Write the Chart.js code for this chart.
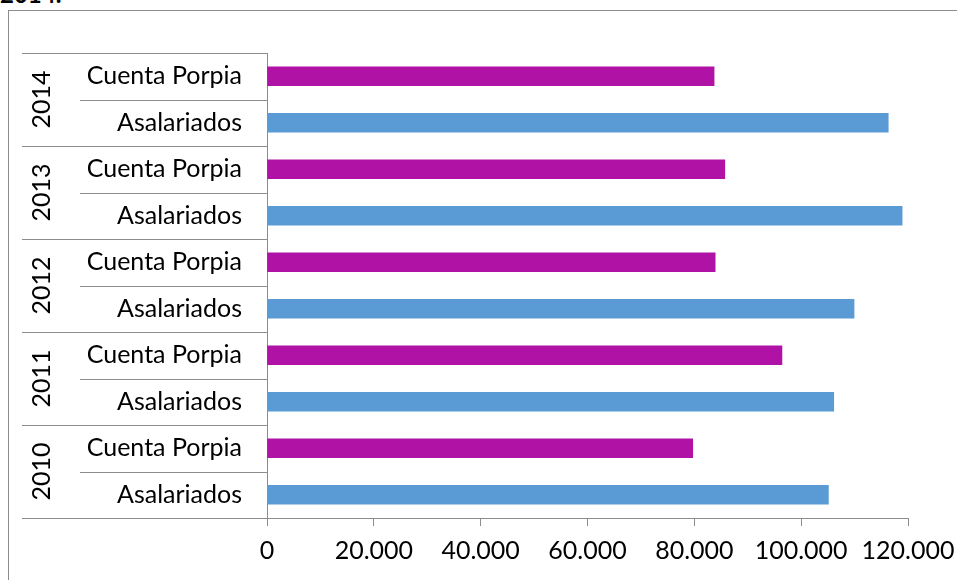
<!DOCTYPE html>
<html>
<head>
<meta charset="utf-8">
<script src="https://cdn.jsdelivr.net/npm/chart.js@4"></script>
<style>
  html, body { margin: 0; padding: 0; background: #fff; overflow: hidden; }
  #wrap { position: relative; width: 957px; height: 580px; overflow: hidden; }
  #frame { position: absolute; left: 8px; top: 10px; width: 970px; height: 600px; border: 1px solid #8c8c8c; }
  #title { position: absolute; left: 0; top: -21px; font: bold 24px Lato, "Open Sans", sans-serif; color: #000; }
  canvas { position: absolute; left: 0; top: 0; }
</style>
</head>
<body>
<div id="wrap">
  <div id="frame"></div>
  <div id="title">2014.</div>
  <canvas id="chart" width="957" height="580"></canvas>
</div>
<script>
// data, top to bottom as in the picture
const years = ['2014', '2013', '2012', '2011', '2010']
const types = ['Cuenta Porpia', 'Asalariados']
const cuentaPropia = [83700, 85700, 83900, 96400, 79700]
const asalariados = [116300, 118900, 109900, 106100, 105100]
const xTicks = [0, 20000, 40000, 60000, 80000, 100000, 120000]

const labels = []
const cpData = []
const asData = []
years.forEach((y, i) => {
  labels.push(y + ' ' + types[0])
  cpData.push(cuentaPropia[i])
  asData.push(null)
  labels.push(y + ' ' + types[1])
  cpData.push(null)
  asData.push(asalariados[i])
})

const lineColor = '#8c8c8c'
const fontFamily = 'Lato, "Open Sans", sans-serif'
const fontSize = 25

// draws the two-level category axis on the left
const groupLabels = {
  id: 'groupLabels',
  afterDraw(chart) {
    const ctx = chart.ctx
    const yScale = chart.scales.y
    const area = chart.chartArea
    const rowH = (area.bottom - area.top) / labels.length
    ctx.save()
    ctx.strokeStyle = lineColor
    ctx.lineWidth = 1
    for (let i = 0; i <= labels.length; i++) {
      const y = Math.round(area.top + i * rowH) + 0.5
      const x0 = i % 2 === 0 ? 22 : 80
      ctx.beginPath()
      ctx.moveTo(x0, y)
      ctx.lineTo(area.left, y)
      ctx.stroke()
    }
    ctx.fillStyle = '#000'
    ctx.font = fontSize + 'px ' + fontFamily
    ctx.textBaseline = 'middle'
    ctx.textAlign = 'right'
    labels.forEach((l, i) => {
      const y = yScale.getPixelForValue(i)
      ctx.fillText(types[i % 2], 242, y)
    })
    ctx.textAlign = 'center'
    years.forEach((yr, i) => {
      const yc = area.top + (i * 2 + 1) * rowH
      ctx.save()
      ctx.translate(42, yc)
      ctx.rotate(-Math.PI / 2)
      ctx.fillText(yr, 0, 0)
      ctx.restore()
    })
    ctx.restore()
  }
}

new Chart(document.getElementById('chart'), {
  type: 'bar',
  data: {
    labels: labels,
    datasets: [
      { label: 'Cuenta Porpia', data: cpData, backgroundColor: '#B012A6', grouped: false, barThickness: 19 },
      { label: 'Asalariados', data: asData, backgroundColor: '#5B9BD5', grouped: false, barThickness: 19 }
    ]
  },
  options: {
    indexAxis: 'y',
    responsive: false,
    animation: false,
    layout: { padding: { top: 53, right: 49, left: 0, bottom: 0 } },
    plugins: { legend: { display: false }, tooltip: { enabled: false } },
    scales: {
      x: {
        min: 0,
        max: 120000,
        afterFit: (scale) => {
          scale.height = 62
          scale.paddingRight = 0
          scale.paddingLeft = 0
        },
        afterBuildTicks: (scale) => { scale.ticks = xTicks.map(v => ({ value: v })) },
        grid: { drawOnChartArea: false, drawTicks: true, tickLength: 8, color: lineColor },
        border: { color: lineColor },
        ticks: {
          color: '#000',
          padding: 10,
          font: { family: fontFamily, size: fontSize },
          callback: (v) => v === 0 ? '0' : v.toLocaleString('de-DE')
        }
      },
      y: {
        afterFit: (scale) => { scale.width = 267 },
        grid: { display: false },
        border: { color: lineColor },
        ticks: { display: false }
      }
    }
  },
  plugins: [groupLabels]
})
</script>
</body>
</html>
